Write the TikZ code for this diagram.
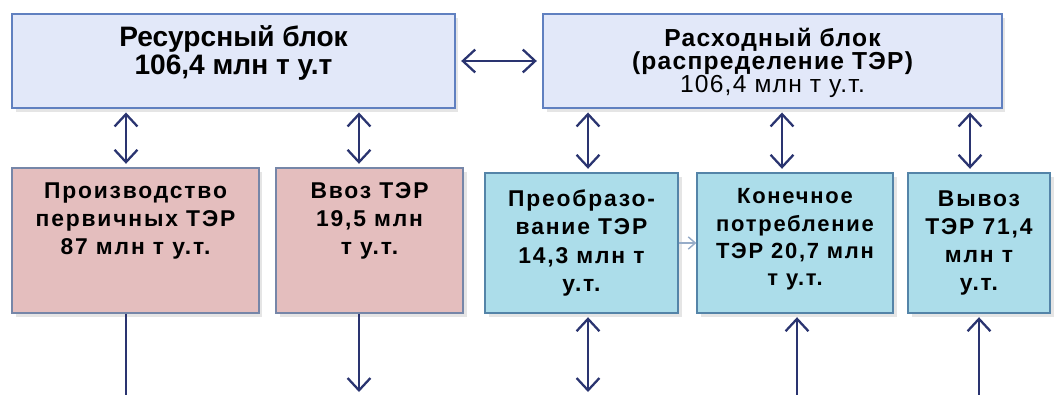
\documentclass[tikz,border=0pt]{standalone}
\usepackage{fontspec}
\setmainfont{Liberation Sans}
\newfontfamily\blockfont[LetterSpace=5]{Liberation Sans}
\newfontfamily\cellfont[LetterSpace=8]{Liberation Sans}
\usetikzlibrary{arrows.meta,positioning,shadows}
\definecolor{blockfill}{RGB}{226,232,249}
\definecolor{blockline}{RGB}{96,128,192}
\definecolor{pinkfill}{RGB}{228,190,190}
\definecolor{pinkline}{RGB}{118,134,168}
\definecolor{aquafill}{RGB}{172,221,234}
\definecolor{aqualine}{RGB}{84,132,168}
\definecolor{flowline}{RGB}{42,52,112}
\definecolor{hintline}{RGB}{150,172,200}
\tikzset{
	topblock/.style = {draw = blockline, fill = blockfill, line width = 1.1pt, minimum height = 1.88cm, align = center, inner sep = 0pt,
		drop shadow = {shadow xshift = 2pt, shadow yshift = -2pt, opacity = 0.2}},
	pinkbox/.style = {draw = pinkline, fill = pinkfill, line width = 0.8pt, minimum height = 2.9cm,
		drop shadow = {shadow xshift = 2pt, shadow yshift = -2pt, opacity = 0.2}},
	aquabox/.style = {draw = aqualine, fill = aquafill, line width = 0.8pt, minimum height = 2.8cm,
		drop shadow = {shadow xshift = 2pt, shadow yshift = -2pt, opacity = 0.2}},
	toptext/.style = {align = center, inner sep = 0pt, font = \blockfont\bfseries\fontsize{14}{13}\selectfont},
	celltext/.style = {align = center, inner sep = 0pt, font = \cellfont\bfseries\fontsize{13}{16}\selectfont},
	flow/.style = {draw = flowline, line width = 1.3pt},
	dbl/.style = {flow, {Straight Barb[length = 7pt, width = 13pt]}-{Straight Barb[length = 7pt, width = 13pt]}},
	one/.style = {flow, -{Straight Barb[length = 7pt, width = 13pt]}}
}
\begin{document}
\begin{tikzpicture}[x = 0.02cm, y = -0.02cm]
	\useasboundingbox [fill = white] (0,0) rectangle (1054,395);
	% upper blocks
	\node [topblock, minimum width = 8.86cm] (res) at (233.5,61) {};
	\node [toptext, font = \bfseries\fontsize{16}{14.2}\selectfont] (restext) at ([yshift = 0.16cm]res) {Ресурсный блок\\106,4 млн т у.т};
	\node [topblock, minimum width = 9.18cm] (rash) at (772.5,61) {};
	\node [toptext] (rashtext) at ([yshift = -0.04cm]rash) {Расходный блок\\(распределение ТЭР)\\\mdseries 106,4 млн т у.т.};
	% lower boxes
	\node [pinkbox, minimum width = 4.94cm] (prod) at (135.5,240.5) {};
	\node [celltext, below = 0.3cm of prod.north] (prodtext) {Производство\\первичных ТЭР\\87 млн т у.т.};
	\node [pinkbox, minimum width = 3.74cm] (vvoz) at (369.5,240.5) {};
	\node [celltext, below = 0.3cm of vvoz.north] (vvoztext) {Ввоз ТЭР\\19,5 млн\\т у.т.};
	\node [aquabox, minimum width = 3.86cm] (preob) at (581.5,243) {};
	\node [celltext] (preobtext) at (preob) {Преобразо-\\вание ТЭР\\14,3 млн т\\у.т.};
	\node [aquabox, minimum width = 3.92cm] (konech) at (795,243) {};
	\node [celltext, font = \cellfont\fontsize{12.5}{15.5}\selectfont\bfseries] (konechtext) at ([yshift = 2pt]konech) {Конечное\\потребление\\ТЭР 20,7 млн\\т у.т.};
	\node [aquabox, minimum width = 2.84cm] (vyvoz) at (979,243) {};
	\node [celltext] (vyvoztext) at (vyvoz) {Вывоз\\ТЭР 71,4\\млн т\\у.т.};
	% free ends at the lower edge
	\coordinate (prodend) at (126,395);
	\coordinate (vvozend) at (359,392);
	\coordinate (preobend) at (588,392);
	\coordinate (konechend) at (797,395);
	\coordinate (vyvozend) at (979,395);
	% links between blocks
	\draw [dbl, shorten <= 3pt, shorten >= 3pt] (res.east) -- (rash.west);
	\draw [dbl, shorten <= 2pt, shorten >= 2pt] (res.south -| prodend) -- (prod.north -| prodend);
	\draw [dbl, shorten <= 2pt, shorten >= 2pt] (res.south -| vvozend) -- (vvoz.north -| vvozend);
	\draw [dbl, shorten <= 2pt, shorten >= 2pt] (rash.south -| preobend) -- (preob.north -| preobend);
	\draw [dbl, shorten <= 2pt, shorten >= 2pt] ([xshift = -0.26cm]rash.south -| konech.north) -- ([xshift = -0.26cm]konech.north);
	\draw [dbl, shorten <= 2pt, shorten >= 2pt] ([xshift = -0.18cm]rash.south -| vyvoz.north) -- ([xshift = -0.18cm]vyvoz.north);
	\draw [draw = hintline, line width = 0.8pt, -{Straight Barb[length = 4pt, width = 7pt]}] (preob.east) -- (konech.west);
	% links leaving the picture
	\draw [flow] (prod.south -| prodend) -- (prodend);
	\draw [one] (vvoz.south -| vvozend) -- (vvozend);
	\draw [dbl, shorten <= 2pt] (preob.south -| preobend) -- (preobend);
	\draw [one, shorten >= 2pt] (konechend) -- (konech.south -| konechend);
	\draw [one, shorten >= 2pt] (vyvozend) -- (vyvoz.south -| vyvozend);
\end{tikzpicture}
\end{document}
